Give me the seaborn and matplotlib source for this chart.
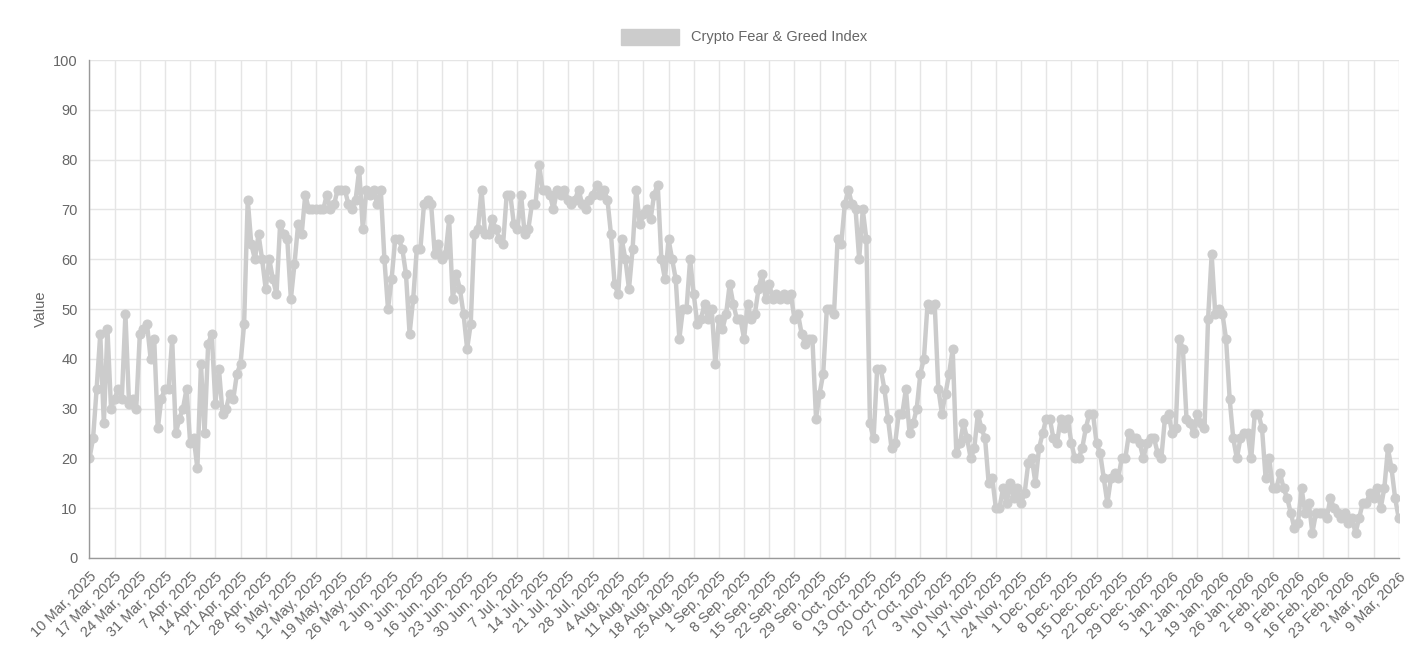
import matplotlib
matplotlib.use("Agg")
import matplotlib.pyplot as plt
import seaborn as sns
import pandas as pd
import numpy as np
from matplotlib.patches import Patch

start_date = "2025-03-10"
weeks = [
    [20,24,34,45,27,46,30],
    [32,34,32,49,31,32,30],
    [45,46,47,40,44,26,32],
    [34,34,44,25,28,30,34],
    [23,24,18,39,25,43,45],
    [31,38,29,30,33,32,37],
    [39,47,72,63,60,65,60],
    [54,60,56,53,67,65,64],
    [52,59,67,65,73,70,70],
    [70,70,70,73,70,71,74],
    [74,74,71,70,72,78,66],
    [74,73,74,71,74,60,50],
    [56,64,64,62,57,45,52],
    [62,62,71,72,71,61,63],
    [60,61,68,52,57,54,49],
    [42,47,65,66,74,65,65],
    [68,66,64,63,73,73,67],
    [66,73,65,66,71,71,79],
    [74,74,73,70,74,73,74],
    [72,71,72,74,71,70,72],
    [73,75,73,74,72,65,55],
    [53,64,60,54,62,74,67],
    [69,70,68,73,75,60,56],
    [64,60,56,44,50,50,60],
    [53,47,48,51,48,50,39],
    [48,46,49,55,51,48,48],
    [44,51,48,49,54,57,52],
    [55,52,53,52,53,52,53],
    [48,49,45,43,44,44,28],
    [33,37,50,50,49,64,63],
    [71,74,71,70,60,70,64],
    [27,24,38,38,34,28,22],
    [23,29,29,34,25,27,30],
    [37,40,51,50,51,34,29],
    [33,37,42,21,23,27,24],
    [20,22,29,26,24,15,16],
    [10,10,14,11,15,12,14],
    [11,13,19,20,15,22,25],
    [28,28,24,23,28,26,28],
    [23,20,20,22,26,29,29],
    [23,21,16,11,16,17,16],
    [20,20,25,24,24,23,20],
    [23,24,24,21,20,28,29],
    [25,26,44,42,28,27,25],
    [29,27,26,48,61,49,50],
    [49,44,32,24,20,24,25],
    [25,20,29,29,26,16,20],
    [14,14,17,14,12,9,6],
    [7,14,9,11,5,9,9],
    [9,8,12,10,9,8,9],
    [7,8,5,8,11,11,13],
    [12,14,10,14,22,18,12],
    [8],
]
values = [v for w in weeks for v in w]
dates = pd.date_range(start_date, periods=len(values), freq="D")
df = pd.DataFrame({"day": np.arange(len(values)), "value": values})

sns.set_theme(style="whitegrid")
plt.rcParams['font.family'] = ['Liberation Sans', 'DejaVu Sans']
fig, ax = plt.subplots(figsize=(14.2, 6.54), dpi=100)
fig.subplots_adjust(left=0.063, right=0.985, top=0.908, bottom=0.147)

c = "#cccccc"
sns.lineplot(data=df, x="day", y="value", ax=ax, color=c, linewidth=3.2,
             marker="o", markersize=6.5, markeredgecolor=c, markerfacecolor=c)

ax.set_ylim(0, 100)
ax.set_yticks(range(0, 101, 10))
ax.set_xlim(0, len(values) - 1)
ticks = list(range(0, len(values), 7))
ax.set_xticks(ticks)
ax.set_xticklabels([f"{dates[i].day} {dates[i].strftime('%b')}, {dates[i].year}" for i in ticks],
                   rotation=45, ha="right", rotation_mode="anchor", fontsize=10.5, color="#666666")
ax.tick_params(axis="y", labelsize=10.5, colors="#666666")
ax.tick_params(axis="both", length=5, color="#dddddd")
ax.set_xlabel("")
ax.set_ylabel("Value", fontsize=10.5, color="#666666")
for s in ["top", "right"]:
    ax.spines[s].set_visible(False)
for s in ["left", "bottom"]:
    ax.spines[s].set_color("#999999")
    ax.spines[s].set_linewidth(1)
ax.grid(True, color="#e5e5e5", linewidth=1)
ax.set_facecolor("white")

handle = Patch(facecolor=c, edgecolor=c)
ax.legend([handle], ["Crypto Fear & Greed Index"], loc="lower center",
          bbox_to_anchor=(0.5, 1.005), frameon=False, fontsize=10.5,
          handlelength=4, handleheight=1.3, labelcolor="#666666")

fig.savefig("out.png", dpi=100)
